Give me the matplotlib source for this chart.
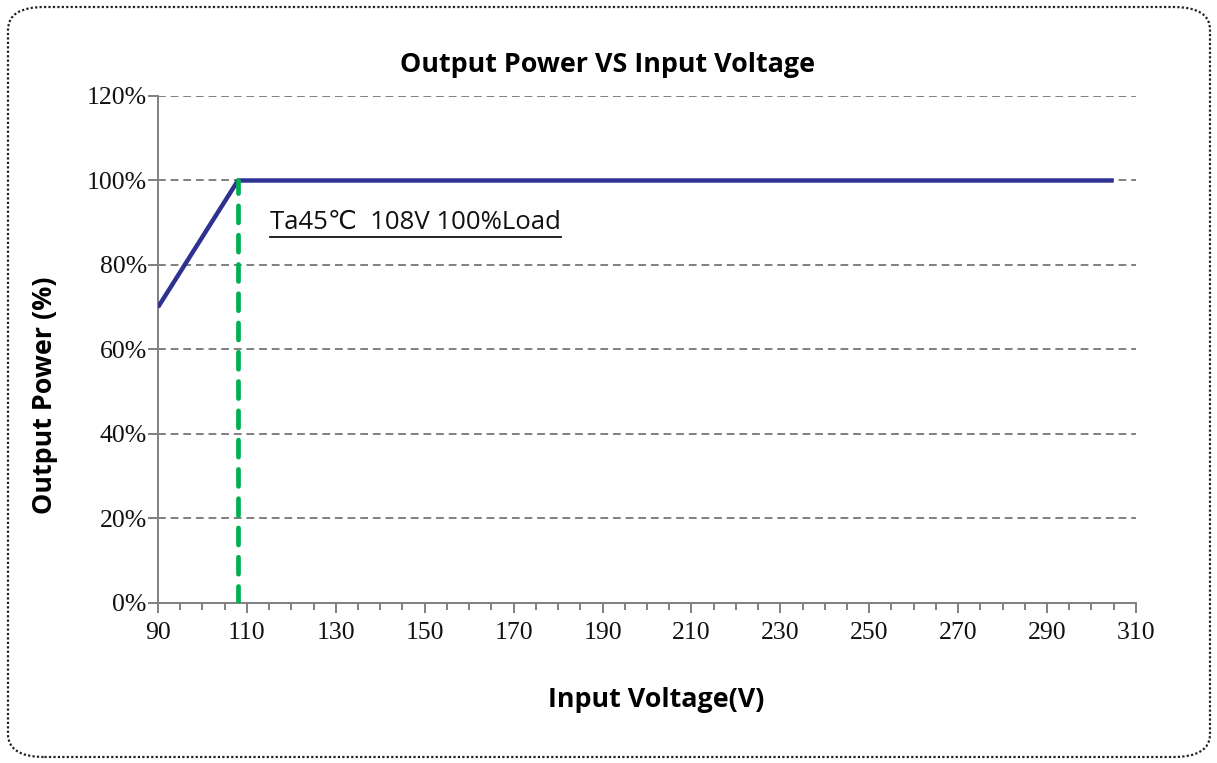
import matplotlib
matplotlib.use("Agg")
import matplotlib.pyplot as plt
from matplotlib.patches import FancyBboxPatch
from matplotlib.lines import Line2D
from matplotlib.ticker import FixedLocator, MultipleLocator, FuncFormatter

# Data
voltage = [90, 108, 305]
power = [70, 100, 100]
marker_v = [108, 108]
marker_p = [0, 100]
x_ticks = [90, 110, 130, 150, 170, 190, 210, 230, 250, 270, 290, 310]
y_ticks = [0, 20, 40, 60, 80, 100, 120]
title = "Output Power VS Input Voltage"
xlabel = "Input Voltage(V)"
ylabel = "Output Power (%)"
note = "Ta45\u2103  108V 100%Load"

fig = plt.figure(figsize=(12.17, 7.63), dpi=100)
ax = fig.add_axes([0.1298, 0.2097, 0.8036, 0.6645])

ax.plot(voltage, power, color="#2E3192", lw=3.2, solid_capstyle="butt", zorder=3)
ax.plot(marker_v, marker_p, color="#00B050", lw=3.4, linestyle=(0, (3.6, 2.6)),
        dash_capstyle="round", zorder=4)

ax.set_xlim(90, 310)
ax.set_ylim(0, 120)
ax.xaxis.set_major_locator(FixedLocator(x_ticks))
ax.xaxis.set_minor_locator(MultipleLocator(5))
ax.yaxis.set_major_locator(FixedLocator(y_ticks))
ax.yaxis.set_major_formatter(FuncFormatter(lambda v, p: f"{int(v)}%"))

ax.grid(axis="y", which="major", color="#808080", linestyle=(0, (4, 2.5)), lw=1.4)
ax.set_axisbelow(True)
for s in ["top", "right"]:
    ax.spines[s].set_visible(False)
for s in ["left", "bottom"]:
    ax.spines[s].set_color("#808080")
    ax.spines[s].set_linewidth(1.4)
ax.tick_params(axis="both", which="major", direction="out", color="#808080", width=1.4, length=7,
               labelsize=18.5, labelcolor="#111111", labelfontfamily="Liberation Serif")
ax.tick_params(axis="x", which="minor", direction="out", color="#808080", width=1.4, length=5)
ax.tick_params(axis="x", pad=7)
ax.tick_params(axis="y", pad=1)

fig.text(0.499, 0.915, title, ha="center", va="center", fontsize=19.4, fontweight="bold",
         family=["Open Sans", "DejaVu Sans"])
fig.text(0.539, 0.083, xlabel, ha="center", va="center", fontsize=19.4, fontweight="bold",
         family=["Open Sans", "DejaVu Sans"])
fig.text(0.037, 0.482, ylabel, ha="center", va="center", rotation=90, fontsize=19.4, fontweight="bold",
         family=["Open Sans", "DejaVu Sans"])

t = ax.text(0.1145, 0.751, note, transform=ax.transAxes, ha="left", va="center", fontsize=18.5,
            family=["Open Sans", "DejaVu Sans"], color="#111111")
fig.canvas.draw()
bb = t.get_window_extent(renderer=fig.canvas.get_renderer())
W, H = fig.bbox.width, fig.bbox.height
y_ul = (bb.y0 - 2) / H
fig.add_artist(Line2D([bb.x0 / W, bb.x1 / W], [y_ul, y_ul], color="#111111", lw=1.3))

border = FancyBboxPatch((8 / W, 6 / H), (1210 - 8) / W, (756 - 6) / H,
                        boxstyle="round,pad=0,rounding_size=0.03", transform=fig.transFigure,
                        fill=False, edgecolor="#222222", linestyle=(0, (1, 1)), lw=1.6)
fig.add_artist(border)

fig.savefig("out.png", dpi=100)
